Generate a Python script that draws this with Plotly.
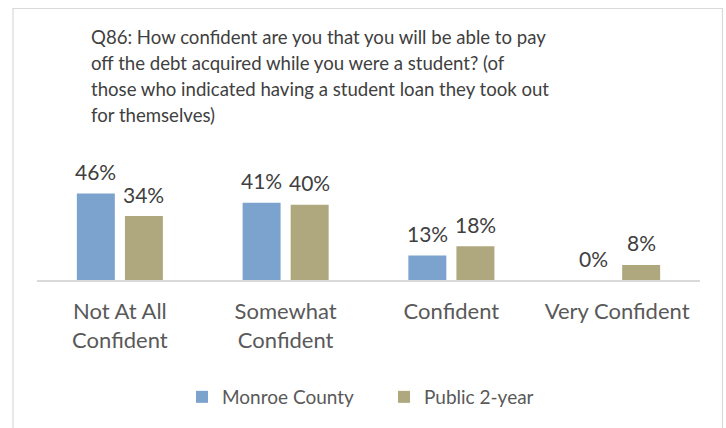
import plotly.graph_objects as go

categories = ["Not At All<br>Confident", "Somewhat<br>Confident", "Confident", "Very Confident"]
monroe = [0.46, 0.41, 0.13, 0.00]
public2 = [0.34, 0.40, 0.18, 0.08]
series_names = ["Monroe County", "Public 2-year"]
title_lines = [
    "Q86: How confident are you that you will be able to pay",
    "off the debt acquired while you were a student? (of",
    "those who indicated having a student loan they took out",
    "for themselves)",
]

W, H = 726, 428
L, R, T, B = 37, 26, 150, 148
PW, PH = W - L - R, H - T - B

def px_x(x):
    return (x - L) / PW

def px_y(y):
    return (H - B - y) / PH

FONT = "Lato"
blue = "#7CA2CE"
tan = "#AFA77D"

fig = go.Figure()
series = [(series_names[0], monroe, blue, -24), (series_names[1], public2, tan, 24)]
for name, vals, col, _ in series:
    fig.add_trace(go.Bar(
        x=categories, y=vals, name=name, marker=dict(color=col, line=dict(width=0)),
        cliponaxis=False,
    ))

# data labels, placed above each bar via the axes' scales
for name, vals, col, shift in series:
    for cat, v in zip(categories, vals):
        fig.add_annotation(text=f"{v:.0%}", xref="x", yref="y", x=cat, y=v,
                           xshift=shift, yshift=22, xanchor="center", yanchor="middle",
                           showarrow=False,
                           font=dict(family=FONT, size=21, color="#404040"))

title_y = [37, 63, 89, 115]
for line, yy in zip(title_lines, title_y):
    fig.add_annotation(text=line, xref="paper", yref="paper", x=px_x(89), y=px_y(yy),
                       xanchor="left", yanchor="middle", showarrow=False,
                       font=dict(family=FONT, size=18.6, color="#404040"))

fig.add_shape(type="rect", xref="paper", yref="paper",
              x0=px_x(13), x1=px_x(722.5), y0=px_y(460), y1=px_y(8.5),
              line=dict(color="#D9D9D9", width=1.2), fillcolor="rgba(0,0,0,0)", layer="below")

fig.update_layout(
    width=W, height=H, margin=dict(l=L, r=R, t=T, b=B, pad=0, autoexpand=False),
    paper_bgcolor="white", plot_bgcolor="white",
    barmode="group", bargap=0.42, bargroupgap=0.21,
    showlegend=True,
    legend=dict(orientation="h", x=(197 - 15) / W, xanchor="left", xref="container",
                y=(H - 397) / H, yanchor="middle", yref="container",
                font=dict(family=FONT, size=19, color="#595959"),
                itemwidth=30, entrywidth=157, traceorder="normal"),
    xaxis=dict(showline=True, linecolor="#D9D9D9", linewidth=1.5, ticks="",
               tickangle=0, automargin=False, ticklabelstandoff=11,
               tickfont=dict(family=FONT, size=22, color="#595959"), showgrid=False,
               zeroline=False, fixedrange=True),
    yaxis=dict(range=[0, 0.691], visible=False, showgrid=False, zeroline=False,
               automargin=False),
)

fig.write_html("out.html", config={"displayModeBar": False},
               post_script="document.body.style.margin='0';document.body.style.overflow='hidden';")
